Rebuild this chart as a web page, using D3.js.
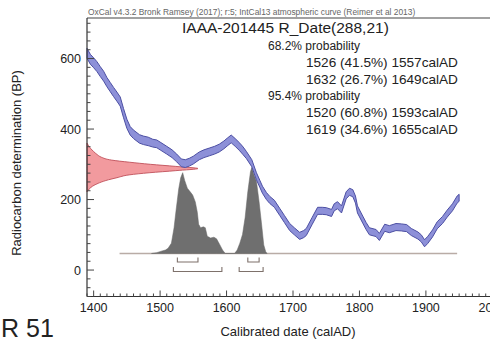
<!DOCTYPE html>
<html><head><meta charset="utf-8">
<script src="https://cdn.jsdelivr.net/npm/d3@7"></script>
<style>
html,body{margin:0;padding:0;background:#fff;}
svg{display:block;font-family:"Liberation Sans",Arial,Helvetica,sans-serif;}
</style></head>
<body><svg id="c" width="490" height="343"></svg>
<script>
// ---- data ----
const headerText = "OxCal v4.3.2 Bronk Ramsey (2017); r:5; IntCal13 atmospheric curve (Reimer et al 2013)";
const titleText = "IAAA-201445 R_Date(288,21)";
const probLines = ["68.2% probability","1526 (41.5%) 1557calAD","1632 (26.7%) 1649calAD","95.4% probability","1520 (60.8%) 1593calAD","1619 (34.6%) 1655calAD"];
const probIndent = [0,1,1,0,1,1];
const xTickLabels = [1400,1500,1600,1700,1800,1900,2000];
const yTickLabels = [0,200,400,600];

// calibration curve (IntCal13) : year AD, BP, 1 sigma
const calYear = [1390,1395,1400,1405,1410,1415,1420,1425,1430,1435,1440,1445,1450,1455,1460,1469,1475,1482,1489,1495,1500,1510,1518,1525,1532,1538,1544,1550,1559,1566,1574,1582,1589,1596,1601,1607,1613,1620,1625,1630,1638,1645,1650,1654,1660,1665,1672,1680,1687,1695,1702,1710,1716,1720,1729,1737,1744,1750,1758,1762,1767,1773,1780,1785,1790,1794,1797,1805,1810,1815,1825,1830,1838,1845,1855,1863,1871,1878,1888,1893,1898,1903,1910,1917,1925,1932,1940,1947,1950];
const calBP   = [615,598,588,577,563,550,533,519,505,492,478,445,415,395,385,372,368,365,360,358,352,340,330,318,304,302,306,312,324,330,335,340,346,355,363,372,362,349,338,326,303,266,245,228,210,199,188,165,145,122,110,97,102,108,140,168,168,167,162,178,184,172,212,222,218,200,172,143,125,110,105,94,120,116,122,121,119,108,98,90,76,86,104,127,142,160,178,200,205];
const calErr  = [14,14,14,14,14,14,13,13,13,13,13,13,13,12,12,12,12,12,11,11,11,11,11,11,11,11,11,11,11,11,11,11,11,11,11,11,11,11,11,10,10,10,10,10,10,10,10,10,10,10,10,10,10,10,10,10,10,10,10,10,10,10,10,10,10,10,10,10,10,10,10,10,10,10,10,10,10,10,10,10,10,10,10,10,10,10,10,10,10];

// radiocarbon determination (relative probability on BP axis)
const rcBP   = [222,230,238,246,254,262,270,276,282,288,294,300,306,312,320,328,336,344,352,360];
const rcProb = [0,0.02,0.05,0.1,0.17,0.27,0.38,0.56,0.8,1,0.8,0.57,0.38,0.22,0.13,0.09,0.06,0.035,0.015,0];

// calibrated distribution (relative probability on calendar axis)
const postYear = [1487,1495,1503,1508,1512,1517,1521,1524,1528,1531,1534,1537,1541,1545,1549,1553,1556,1558,1561,1565,1568,1571,1576,1581,1585,1590,1594,1598,1612,1616,1620,1624,1628,1632,1636,1638,1641,1645,1649,1653,1656,1659,1661];
const postProb = [0,0.01,0.03,0.04,0.06,0.12,0.3,0.5,0.75,0.88,0.94,0.85,0.76,0.72,0.68,0.6,0.48,0.34,0.3,0.31,0.3,0.2,0.18,0.19,0.17,0.1,0.04,0,0,0.04,0.12,0.22,0.42,0.72,0.95,1,0.92,0.84,0.6,0.32,0.1,0.02,0];
const postRange = [1439,1947];
const postBaseBP = 47;

// ranges
const range68 = [[1526,1557],[1632,1649]];
const range95 = [[1520,1593],[1619,1655]];

// ---- drawing ----
const svg = d3.select("#c");
const x = d3.scaleLinear().domain([1390,2010]).range([87,499]);
const y = d3.scaleLinear().domain([-75,715]).range([296.5,18]);
const rcW = d3.scaleLinear().domain([0,1]).range([x(1390), x(1390)+111]);
const pH = d3.scaleLinear().domain([0,1]).range([y(postBaseBP), y(postBaseBP)-86]);

// header
svg.append("text").attr("x",88).attr("y",14.5).attr("font-size",8.4).attr("fill","#666").text(headerText);

// red distribution on y axis
const rcData = rcBP.map((b,i)=>({b, p:rcProb[i]}));
svg.append("path").datum(rcData)
  .attr("d", d3.area().curve(d3.curveMonotoneY).y(d=>y(d.b)).x0(x(1390)).x1(d=>rcW(d.p)))
  .attr("fill","#f29a9e").attr("stroke","#c0505a").attr("stroke-width",0.9);

// calibrated distribution
const pData = postYear.map((yr,i)=>({yr, p:postProb[i]}));
svg.append("line").attr("x1",x(postRange[0])).attr("x2",x(postRange[1]))
  .attr("y1",y(postBaseBP)).attr("y2",y(postBaseBP)).attr("stroke","#b9aca6").attr("stroke-width",1.3);
svg.append("path").datum(pData)
  .attr("d", d3.area().x(d=>x(d.yr)).y0(y(postBaseBP)).y1(d=>pH(d.p)))
  .attr("fill","#6f6f6f").attr("stroke","#666").attr("stroke-width",0.5);

// range brackets
function brackets(rs, dy){
  const yy = y(postBaseBP)+dy;
  rs.forEach(r=>{
    svg.append("path")
      .attr("d", `M${x(r[0])},${yy-4.5}V${yy}H${x(r[1])}V${yy-4.5}`)
      .attr("fill","none").attr("stroke","#7e716b").attr("stroke-width",1.1);
  });
}
brackets(range68, 8.5);
brackets(range95, 18);

// calibration curve band
const cData = calYear.map((yr,i)=>({yr, bp:calBP[i], e:calErr[i]}));
svg.append("path").datum(cData)
  .attr("d", d3.area().x(d=>x(d.yr)).y0(d=>y(d.bp-d.e)).y1(d=>y(d.bp+d.e)))
  .attr("fill","#8d90d8").attr("stroke","#4c4fa3").attr("stroke-width",1);

// frame / axes
svg.append("line").attr("x1",87).attr("x2",490).attr("y1",18).attr("y2",18).attr("stroke","#444").attr("stroke-width",1.2);
svg.append("line").attr("x1",87).attr("x2",87).attr("y1",18).attr("y2",296.5).attr("stroke","#333").attr("stroke-width",1.2);
svg.append("line").attr("x1",87).attr("x2",490).attr("y1",296.5).attr("y2",296.5).attr("stroke","#333").attr("stroke-width",1.2);

// y ticks
d3.range(-75,716,25).forEach(v=>{
  const major = yTickLabels.includes(v);
  svg.append("line").attr("x1",87).attr("x2",87+(major?7:3.5)).attr("y1",y(v)).attr("y2",y(v))
    .attr("stroke","#444").attr("stroke-width",1);
});
yTickLabels.forEach(v=>{
  svg.append("text").attr("x",81).attr("y",y(v)+4.5).attr("text-anchor","end")
    .attr("font-size",12.5).attr("fill","#222").text(v);
});
// x ticks
d3.range(1390,2011,10).forEach(v=>{
  const major = xTickLabels.includes(v);
  svg.append("line").attr("x1",x(v)).attr("x2",x(v)).attr("y1",296.5).attr("y2",296.5-(major?6:3))
    .attr("stroke","#444").attr("stroke-width",1);
});
xTickLabels.forEach(v=>{
  svg.append("text").attr("x",x(v)).attr("y",312).attr("text-anchor","middle")
    .attr("font-size",12.5).attr("fill","#222").text(v);
});

// axis titles
svg.append("text").attr("x",288).attr("y",336).attr("text-anchor","middle").attr("font-size",13).attr("fill","#222").text("Calibrated date (calAD)");
svg.append("text").attr("transform","translate(21,163) rotate(-90)").attr("text-anchor","middle").attr("font-size",13).attr("fill","#222").text("Radiocarbon determination (BP)");

// title and probability text
svg.append("text").attr("x",182).attr("y",33).attr("font-size",15.5).attr("fill","#222").text(titleText);
probLines.forEach((t,i)=>{
  svg.append("text").attr("x",probIndent[i]?306:268).attr("y",50+i*16.8)
    .attr("font-size",probIndent[i]?13.6:12).attr("fill","#222").text(t);
});

// figure label
svg.append("text").attr("x",1).attr("y",337).attr("font-size",25).attr("fill","#222").text("R 51");
</script></body></html>
